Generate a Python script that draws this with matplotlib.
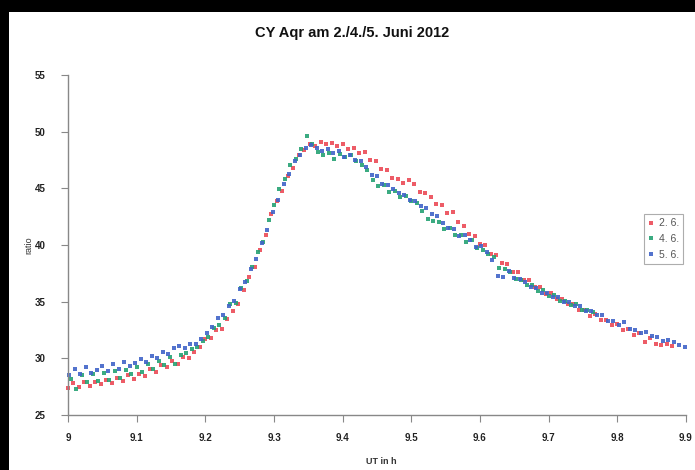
import numpy as np
import matplotlib
matplotlib.use("Agg")
import matplotlib.pyplot as plt
from matplotlib.patches import Rectangle

# ---------------- data ----------------
title = "CY Aqr am 2./4./5. Juni 2012"
x_label = "UT in h"
y_label = "ratio"
series_labels = ["2. 6.", "4. 6.", "5. 6."]
x_ticks = [9.0, 9.1, 9.2, 9.3, 9.4, 9.5, 9.6, 9.7, 9.8, 9.9]
x_tick_labels = ["9", "9.1", "9.2", "9.3", "9.4", "9.5", "9.6", "9.7", "9.8", "9.9"]
y_ticks = [25, 30, 35, 40, 45, 50, 55]

cadence = 0.008          # h between exposures
start_red, start_green, start_blue = 9.000, 9.004, 9.002

ratio_red = [
    27.4, 27.8, 27.5, 27.9, 27.6, 27.9, 27.7, 28.1, 27.8, 28.3,
    28.0, 28.5, 28.2, 28.6, 28.4, 29.1, 28.8, 29.4, 29.2, 29.8,
    29.5, 30.1, 30.0, 30.6, 31.0, 31.7, 31.8, 32.5, 32.6, 33.5,
    34.2, 34.8, 36.0, 37.2, 38.1, 39.6, 40.9, 42.7, 43.9, 44.8,
    46.1, 46.8, 47.9, 48.4, 48.9, 48.7, 49.1, 48.9, 49.0, 48.7,
    48.9, 48.5, 48.6, 48.1, 48.2, 47.5, 47.4, 46.7, 46.6, 45.9,
    45.8, 45.5, 45.7, 45.4, 44.7, 44.6, 44.2, 43.6, 43.5, 42.8,
    42.9, 42.0, 41.7, 41.0, 40.8, 40.1, 40.0, 39.2, 39.1, 38.4,
    38.3, 37.6, 37.6, 36.9, 36.9, 36.3, 36.3, 35.7, 35.8, 35.2,
    35.2, 34.8, 34.8, 34.3, 34.3, 33.7, 33.9, 33.4, 33.4, 32.9,
    33.0, 32.5, 32.6, 32.1, 32.2, 31.4, 31.8, 31.3, 31.2, 31.3,
    31.1,
]

ratio_green = [
    28.2, 27.3, 28.5, 27.9, 28.6, 28.0, 28.7, 28.1, 28.9, 28.3,
    29.0, 28.6, 29.2, 28.8, 29.5, 29.1, 29.8, 29.4, 30.1, 29.5,
    30.3, 30.5, 30.8, 31.0, 31.5, 31.9, 32.7, 32.9, 33.6, 34.8,
    34.9, 36.2, 36.8, 38.1, 39.4, 40.3, 42.2, 43.5, 44.9, 45.8,
    47.1, 47.6, 48.5, 49.6, 48.9, 48.2, 47.9, 48.1, 47.6, 48.0,
    47.8, 47.9, 47.4, 47.1, 46.6, 45.7, 45.2, 45.3, 44.7, 44.8,
    44.2, 44.3, 43.9, 43.7, 43.0, 42.3, 42.1, 42.0, 41.4, 41.5,
    40.9, 40.9, 40.3, 40.4, 39.7, 39.6, 39.2, 38.9, 38.0, 37.9,
    37.6, 37.0, 36.9, 36.5, 36.5, 35.9, 36.0, 35.5, 35.6, 35.1,
    35.1, 34.7, 34.8, 34.3, 34.3, 34.1,
]

ratio_blue = [
    28.5, 29.1, 28.6, 29.2, 28.7, 29.0, 29.3, 28.9, 29.5, 29.1,
    29.7, 29.3, 29.6, 29.9, 29.7, 30.2, 30.0, 30.6, 30.4, 30.9,
    31.1, 30.9, 31.3, 31.3, 31.7, 32.2, 32.8, 33.6, 33.8, 34.6,
    35.1, 36.1, 36.7, 37.9, 38.8, 40.2, 41.3, 42.9, 44.0, 45.4,
    46.3, 47.4, 47.9, 48.6, 48.8, 48.6, 48.3, 48.5, 48.1, 48.3,
    47.8, 47.9, 47.5, 47.4, 46.9, 46.2, 46.1, 45.4, 45.3, 44.9,
    44.6, 44.4, 44.0, 43.9, 43.4, 43.3, 42.7, 42.6, 41.9, 41.5,
    41.4, 40.8, 40.9, 40.4, 39.8, 39.9, 39.4, 38.7, 37.3, 37.2,
    37.7, 37.1, 37.0, 36.7, 36.3, 36.2, 35.8, 35.8, 35.4, 35.4,
    35.0, 35.0, 34.6, 34.6, 34.2, 34.2, 33.8, 33.8, 33.3, 33.3,
    32.9, 33.2, 32.6, 32.5, 32.2, 32.3, 32.0, 31.9, 31.5, 31.6,
    31.4, 31.2, 31.0,
]

t_red = start_red + cadence * np.arange(len(ratio_red))
t_green = start_green + cadence * np.arange(len(ratio_green))
t_blue = start_blue + cadence * np.arange(len(ratio_blue))

colors = ["#ec4a56", "#25a273", "#4064c8"]

# ---------------- figure ----------------
plt.rcParams["font.family"] = ["Liberation Sans", "DejaVu Sans"]
W, H = 695, 470
fig = plt.figure(figsize=(W / 100, H / 100), dpi=100, facecolor="black")
fig.patches.append(Rectangle((9 / W, 0), 1 - 9 / W, (H - 12) / H,
                             transform=fig.transFigure, facecolor="white",
                             edgecolor="none", zorder=-10))

ax = fig.add_axes([68 / W, (H - 415) / H, (686 - 68) / W, (415 - 75) / H])
ax.set_facecolor("none")

for t, r, c, lab in zip([t_red, t_green, t_blue],
                        [ratio_red, ratio_green, ratio_blue],
                        colors, series_labels):
    ax.plot(t, r, linestyle="none", marker="s", ms=2.2, mew=0, color=c,
            alpha=0.9, label=lab, clip_on=False)

ax.set_xlim(9.0, 9.9)
ax.set_ylim(25, 55)
ax.set_xticks(x_ticks)
ax.set_xticklabels(x_tick_labels)
ax.set_yticks(y_ticks)

for s in ["top", "right"]:
    ax.spines[s].set_visible(False)
for s in ["left", "bottom"]:
    ax.spines[s].set_color("#888888")
    ax.spines[s].set_linewidth(1.0)

ax.tick_params(axis="both", direction="out", length=5, width=0.8,
               color="#888888", labelsize=7, labelcolor="#222222")
ax.tick_params(axis="x", pad=8)
ax.tick_params(axis="y", pad=11)
for lbl in ax.get_xticklabels() + ax.get_yticklabels():
    lbl.set_fontweight("bold")

fig.text(381 / W, 1 - 462 / H, x_label, ha="center", va="center",
         fontsize=6.5, fontweight="bold", color="#333333")
fig.text(29 / W, 1 - 245 / H, y_label, ha="center", va="center",
         rotation=90, fontsize=6.5, color="#333333")
fig.text(352 / W, 1 - 33 / H, title, ha="center", va="center",
         fontsize=10.5, fontweight="bold", color="#111111")

leg = ax.legend(loc="upper left", bbox_to_anchor=(644 / W, 1 - 214 / H),
                bbox_transform=fig.transFigure, frameon=True, fancybox=False,
                fontsize=7.5, handlelength=0.6, handletextpad=0.4,
                borderpad=0.4, labelspacing=0.55, borderaxespad=0,
                markerscale=1.0)
leg.get_frame().set_edgecolor("#999999")
leg.get_frame().set_linewidth(0.8)
for txt in leg.get_texts():
    txt.set_color("#555555")

fig.savefig("out.png", dpi=100, facecolor="black")
